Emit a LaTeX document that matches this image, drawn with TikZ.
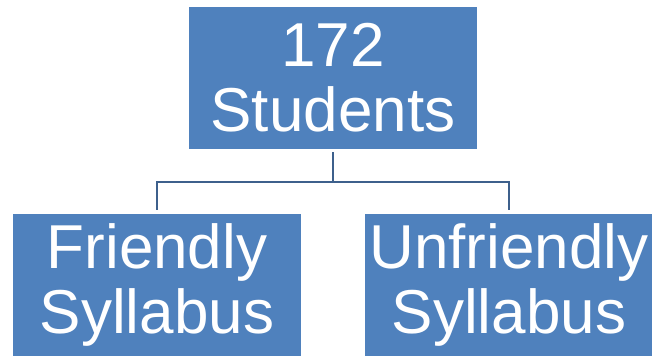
\documentclass[tikz,border=0pt]{standalone}
\usepackage{fontspec}
\setmainfont{Liberation Sans}
\usetikzlibrary{positioning}
\definecolor{boxblue}{RGB}{79,129,189}
\definecolor{linkblue}{RGB}{61,96,140}

\begin{document}
\begin{tikzpicture}[x=1pt,y=-1pt,
  group/.style={fill=boxblue,draw=none,text=white,inner sep=0pt,
   minimum width=288pt,minimum height=142pt,align=center,
   font=\fontsize{62pt}{65pt}\selectfont},
  link/.style={draw=linkblue,line width=2.5pt,shorten <=3pt,shorten >=3pt}]
 \useasboundingbox (0,0) rectangle (652,358);
 \node[group] (total) at (333,78) {172\\Students};
 \node[group] (friendly) at (157,284.5) {Friendly\\Syllabus};
 \node[group] (unfriendly) at (509,284.5) {Unfriendly\\Syllabus};
 \draw[link] (total.south) -- ++(0,33) -| (friendly.north);
 \draw[link] (total.south) -- ++(0,33) -| (unfriendly.north);
\end{tikzpicture}
\end{document}
